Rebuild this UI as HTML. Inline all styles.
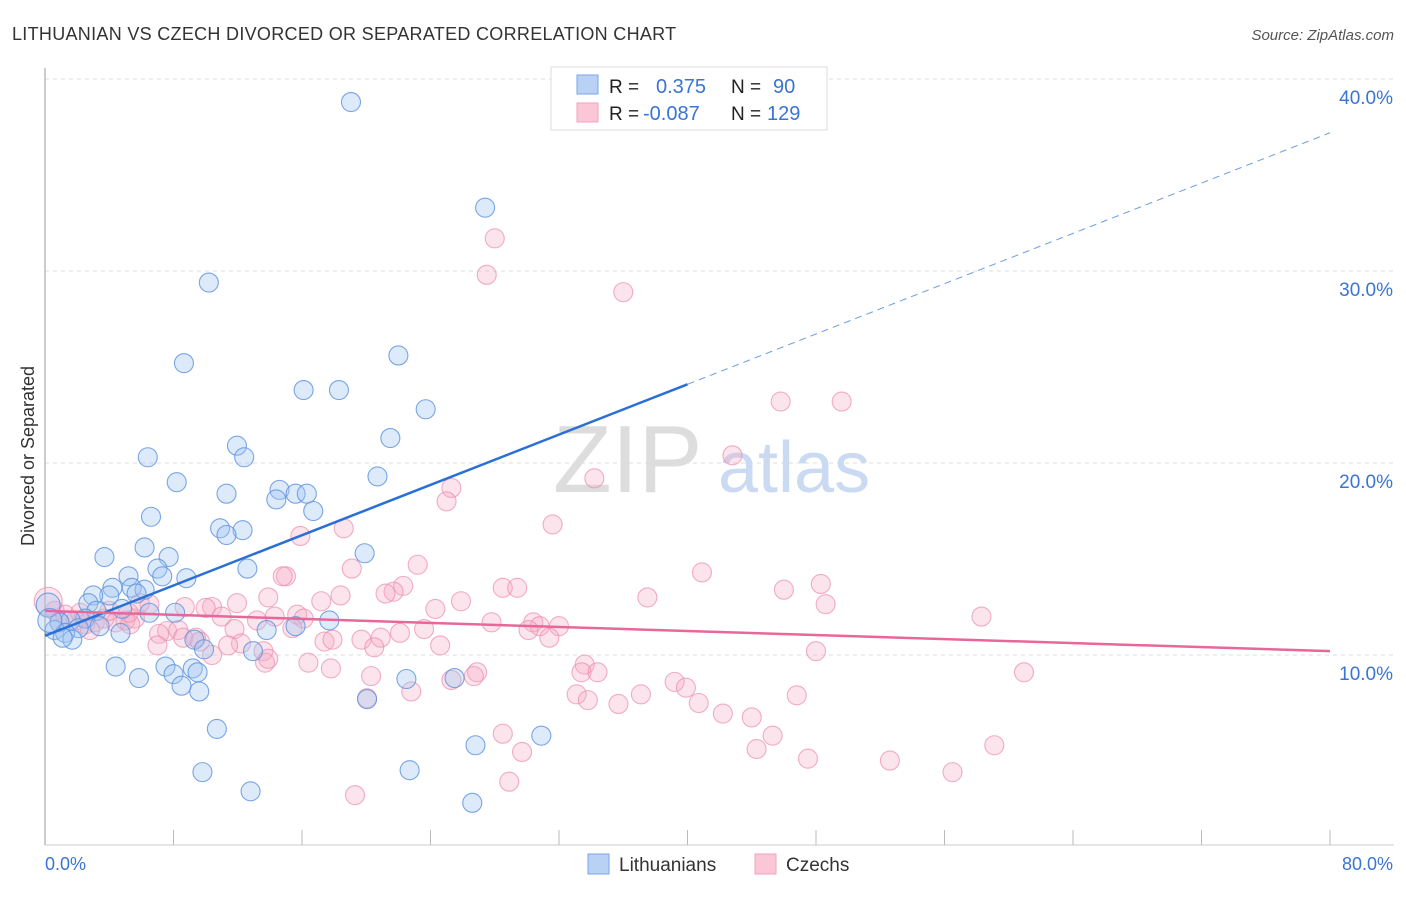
<!DOCTYPE html>
<html><head><meta charset="utf-8"><style>
body{margin:0;background:#fff;font-family:"Liberation Sans",sans-serif}
svg text{font-family:"Liberation Sans",sans-serif}
</style></head><body>
<svg id="chart" width="1406" height="892" viewBox="0 0 1406 892" xmlns="http://www.w3.org/2000/svg">
<text x="12" y="40" font-size="18" fill="#333" letter-spacing="0.3">LITHUANIAN VS CZECH DIVORCED OR SEPARATED CORRELATION CHART</text>
<text x="1394" y="40" font-size="15" fill="#555" font-style="italic" text-anchor="end">Source: ZipAtlas.com</text>
<g id="grid"></g>
<g><text x="553" y="492" font-size="96" fill="#ddd" font-family="Liberation Serif,serif">ZIP</text><text x="718" y="492" font-size="72" fill="#c9daf2">atlas</text></g>
<line x1="45" y1="68" x2="45" y2="845" stroke="#bbb" stroke-width="1.5"/>
<line x1="45" y1="845" x2="1394" y2="845" stroke="#ccc" stroke-width="1"/>
<g id="xticks"></g>
<g id="yticks"></g>
<text x="45" y="870" font-size="18" fill="#3a74d4">0.0%</text>
<text x="1393" y="870" font-size="18" fill="#3a74d4" text-anchor="end">80.0%</text>
<text transform="translate(34,456) rotate(-90)" font-size="18" fill="#333" text-anchor="middle">Divorced or Separated</text>
<g id="pink"></g>
<g id="blue"></g>
<g id="trends"></g>
<g>
<rect x="551" y="67" width="276" height="63" fill="#fff" stroke="#ddd"/>
<rect x="577" y="75" width="21" height="19" fill="#b9d1f5" stroke="#7aa6e6"/>
<rect x="577" y="103" width="21" height="19" fill="#fbc7d6" stroke="#f0a3bb"/>
<text x="609" y="93" font-size="19" fill="#222">R = </text><text x="656" y="93" font-size="20" fill="#3a74d4">0.375</text>
<text x="731" y="93" font-size="19" fill="#222">N = </text><text x="773" y="93" font-size="20" fill="#3a74d4">90</text>
<text x="609" y="120" font-size="19" fill="#222">R = </text><text x="643" y="120" font-size="20" fill="#3a74d4">-0.087</text>
<text x="731" y="120" font-size="19" fill="#222">N = </text><text x="767" y="120" font-size="20" fill="#3a74d4">129</text>
</g>
<g>
<rect x="588" y="854" width="21" height="20" fill="#b9d1f5" stroke="#7aa6e6"/>
<text x="619" y="871" font-size="19" fill="#333">Lithuanians</text>
<rect x="755" y="854" width="21" height="20" fill="#fbc7d6" stroke="#f0a3bb"/>
<text x="786" y="871" font-size="19" fill="#333">Czechs</text>
</g>
</svg>
<script>
const yTickValues=[10,20,30,40];
const yTickLabels=["10.0%","20.0%","30.0%","40.0%"];
const xTickValues=[0,8,16,24,32,40,48,56,64,72,80];
const blueX=[19.05,27.4,10.2,8.65,22.0,16.1,18.3,23.7,21.5,11.95,12.4,6.4,20.7,8.2,11.3,14.6,14.4,15.6,16.3,16.7,6.6,10.9,12.3,11.3,6.2,3.7,7.7,19.9,12.6,7.0,7.3,8.8,5.2,4.2,5.4,6.2,5.7,4.0,3.0,2.7,3.2,4.8,6.5,8.1,17.7,2.5,1.6,0.9,3.4,2.1,0.6,1.25,1.7,1.1,4.7,13.8,15.6,9.3,9.9,12.95,4.4,7.5,9.2,8.0,9.5,5.85,8.5,9.6,22.5,25.5,20.05,10.7,30.9,26.8,9.8,22.7,12.8,26.6,0.2,0.3];
const blueY=[38.8,33.3,29.4,25.2,25.6,23.8,23.8,22.8,21.3,20.9,20.3,20.3,19.3,19.0,18.4,18.6,18.1,18.4,18.4,17.5,17.2,16.6,16.5,16.25,15.6,15.1,15.1,15.3,14.5,14.5,14.1,14.0,14.1,13.5,13.5,13.4,13.2,13.1,13.1,12.7,12.3,12.4,12.2,12.2,11.8,11.9,11.8,11.7,11.5,11.4,11.3,11.15,10.8,10.9,11.15,11.3,11.5,10.8,10.3,10.2,9.4,9.4,9.3,9.0,9.1,8.8,8.4,8.1,8.75,8.8,7.7,6.15,5.8,5.3,3.9,4.0,2.9,2.3,12.6,11.8];
const pinkX=[28.0,27.5,36.0,45.8,49.6,42.8,34.2,25.3,25.0,31.6,18.6,15.9,23.2,19.1,40.9,15.0,14.8,48.3,46.0,22.3,21.7,21.2,28.5,29.4,13.9,18.4,17.2,25.9,37.5,11.95,10.4,10.0,24.3,48.6,6.5,8.7,14.3,15.7,16.1,13.2,11.0,58.3,27.8,30.4,30.8,32.0,30.1,23.6,22.1,15.4,11.8,7.6,8.3,8.6,7.1,9.4,9.65,20.9,31.4,17.4,19.7,17.9,12.2,11.4,24.6,20.5,13.6,7.0,10.4,48.0,16.4,17.8,13.7,13.9,33.6,33.4,34.4,26.9,26.7,25.3,20.3,39.2,39.9,60.95,22.8,33.1,33.8,35.7,37.1,40.7,46.8,42.2,44.0,28.5,29.7,45.3,44.3,47.5,52.6,59.1,56.5,28.9,19.3,20.05,0.6,1.25,1.9,2.5,3.1,3.7,4.4,5.0,5.6,5.3,4.0,2.8,2.2,0.9,5.9,5.2,0.2];
const pinkY=[31.7,29.8,28.9,23.2,23.2,20.4,19.2,18.7,18.0,16.8,16.6,16.2,14.7,14.5,14.3,14.1,14.1,13.7,13.4,13.6,13.3,13.2,13.5,13.5,13.0,13.1,12.8,12.8,13.0,12.7,12.5,12.45,12.4,12.65,12.65,12.5,12.0,12.1,11.9,11.8,12.0,12.0,11.7,11.7,11.5,11.5,11.3,11.35,11.15,11.4,11.35,11.25,11.3,10.9,11.1,10.9,10.7,10.9,10.9,10.7,10.8,10.8,10.6,10.5,10.5,10.4,10.2,10.5,10.0,10.2,9.6,9.3,9.6,9.8,9.5,9.1,9.1,9.1,8.9,8.7,8.9,8.6,8.3,9.1,8.1,7.95,7.65,7.45,7.95,7.5,7.9,6.95,6.75,5.9,4.95,5.8,5.1,4.6,4.5,5.3,3.9,3.4,2.7,7.75,12.3,12.1,11.8,11.6,11.7,11.9,11.7,11.8,11.9,11.6,12.3,11.3,12.2,11.7,12.7,12.2,12.8];
const blueTrend=[11.0,37.2];
const pinkTrend=[12.3,10.2];
const NS="http://www.w3.org/2000/svg";
const X0=45,X1=1330,Y0=847,YPX=19.2;
function xs(v){return X0+(X1-X0)*v/80;}
function ys(v){return Y0-v*YPX;}
function mk(tag,attrs,parent){const e=document.createElementNS(NS,tag);for(const k in attrs)e.setAttribute(k,attrs[k]);parent.appendChild(e);return e;}
const grid=document.getElementById('grid'),yt=document.getElementById('yticks'),xt=document.getElementById('xticks');
yTickValues.forEach((v,i)=>{
  const l=mk('line',{x1:45,x2:1394,y1:ys(v),y2:ys(v),stroke:'#ddd','stroke-dasharray':'4,4'},grid);
  
  
  const t=mk('text',{x:1393,y:ys(v)+25,'font-size':19,fill:'#3a74d4','text-anchor':'end'},yt);
  t.textContent=yTickLabels[i];
  
  
});
xTickValues.forEach(v=>{
  const l=mk('line',{x1:xs(v),x2:xs(v),y1:830,y2:845,stroke:'#bbb'},xt);
  
  
});
const pg=document.getElementById('pink'),bg=document.getElementById('blue');
pinkX.forEach((v,i)=>{
  const c=mk('circle',{cx:xs(v),cy:ys(pinkY[i]),r:i==pinkX.length-1?14:9.5,fill:'rgba(246,170,196,0.32)',stroke:'rgba(236,140,172,0.7)','stroke-width':1.1},pg);
  
  
});
blueX.forEach((v,i)=>{
  const c=mk('circle',{cx:xs(v),cy:ys(blueY[i]),r:i>=blueX.length-2?12:9.5,fill:'rgba(160,196,242,0.36)',stroke:'rgba(90,145,222,0.8)','stroke-width':1.1},bg);
  
  
});
const tg=document.getElementById('trends');
const bmid=blueTrend[0]+(blueTrend[1]-blueTrend[0])*0.5;
let l1=mk('line',{x1:xs(0),y1:ys(blueTrend[0]),x2:xs(40),y2:ys(bmid),stroke:'#2a6fd6','stroke-width':2.5},tg);


let l2=mk('line',{x1:xs(40),y1:ys(bmid),x2:xs(80),y2:ys(blueTrend[1]),stroke:'#6d9de0','stroke-width':1,'stroke-dasharray':'7,5'},tg);


let l3=mk('line',{x1:xs(0),y1:ys(pinkTrend[0]),x2:xs(80),y2:ys(pinkTrend[1]),stroke:'#e8679a','stroke-width':2.5},tg);


</script>
</body></html>
